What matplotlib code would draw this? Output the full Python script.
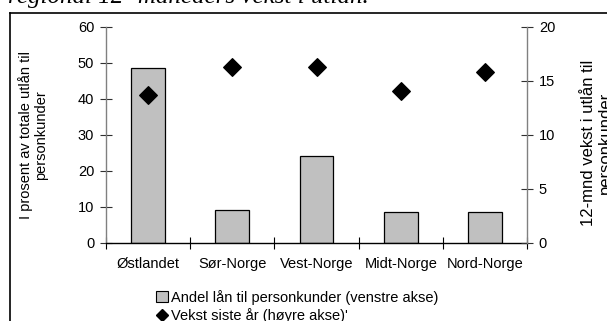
import matplotlib
matplotlib.use("Agg")
import matplotlib.pyplot as plt
from matplotlib.lines import Line2D
from matplotlib.patches import Patch
import numpy as np

regions = ["Østlandet", "Sør-Norge", "Vest-Norge", "Midt-Norge", "Nord-Norge"]
share = [48.6, 9.1, 24.1, 8.7, 8.7]        # venstre akse, prosent
growth = [13.7, 16.3, 16.3, 14.1, 15.8]    # høyre akse, 12-mnd vekst

plt.rcParams["font.family"] = ["Liberation Sans", "DejaVu Sans"]
fs = 10.5

W, H = 607, 321
fig = plt.figure(figsize=(W / 100, H / 100), dpi=100)

# frame lines left over from the surrounding page
fig.add_artist(Line2D([10 / W, 10 / W], [0, 1 - 13 / H], color="black", lw=1.2,
                      transform=fig.transFigure))
fig.add_artist(Line2D([10 / W, 1], [1 - 13 / H, 1 - 13 / H], color="black", lw=1.2,
                      transform=fig.transFigure))
fig.text(8 / W, 1 - 3 / H, "regional 12- måneders vekst i utlån.",
         family=["Liberation Serif"], style="italic", fontsize=18, va="baseline")

x0, x1 = 106, 527
y0, y1 = 243, 27
ax = fig.add_axes([x0 / W, 1 - y0 / H, (x1 - x0) / W, (y0 - y1) / H])
ax2 = ax.twinx()

x = np.arange(len(regions))
ax.bar(x, share, width=0.4, color="#c0c0c0", edgecolor="black", linewidth=0.9, zorder=2)
ax2.scatter(x, growth, marker="D", s=80, color="black", zorder=3)

ax.set_xlim(-0.5, len(regions) - 0.5)
ax.set_ylim(0, 60)
ax2.set_ylim(0, 20)
ax.set_yticks(np.arange(0, 61, 10))
ax2.set_yticks(np.arange(0, 21, 5))

ax.set_xticks(x)
ax.set_xticklabels(regions, fontsize=fs)
ax.tick_params(axis="x", length=0, pad=10)
ax.set_xticks(np.arange(-0.5, len(regions)), minor=True)
ax.tick_params(axis="x", which="minor", direction="inout", length=9, width=0.8)

for a in (ax, ax2):
    a.spines["top"].set_visible(False)
    a.tick_params(axis="y", direction="inout", length=9, width=0.8, color="#303030",
                  labelsize=fs, pad=4)
ax.spines["right"].set_visible(False)
ax2.spines["left"].set_visible(False)
ax2.spines["bottom"].set_visible(False)
ax.spines["left"].set_color("#808080")
ax2.spines["right"].set_color("#808080")
ax.spines["left"].set_linewidth(1.0)
ax2.spines["right"].set_linewidth(1.0)
ax.spines["bottom"].set_linewidth(1.0)

fig.text(33 / W, 1 - 135 / H, "I prosent av totale utlån til\npersonkunder", rotation=90,
         ha="center", va="center", fontsize=fs, multialignment="center",
         linespacing=1.1)
fig.text(597 / W, 1 - 143 / H, "12-mnd vekst i utlån til\npersonkunder", rotation=90,
         ha="center", va="center", fontsize=12, multialignment="center",
         linespacing=1.1)

handles = [Patch(facecolor="#c0c0c0", edgecolor="black", linewidth=0.8),
           Line2D([], [], marker="D", color="black", linestyle="none", markersize=6)]
fig.legend(handles, ["Andel lån til personkunder (venstre akse)",
                     "Vekst siste år (høyre akse)'"],
           loc="upper left", bbox_to_anchor=(156 / W, 1 - 290 / H), frameon=False,
           fontsize=fs, handlelength=0.8, handleheight=0.8, handletextpad=0.2,
           labelspacing=0.2, borderpad=0, borderaxespad=0)

fig.savefig("out.png", dpi=100)
